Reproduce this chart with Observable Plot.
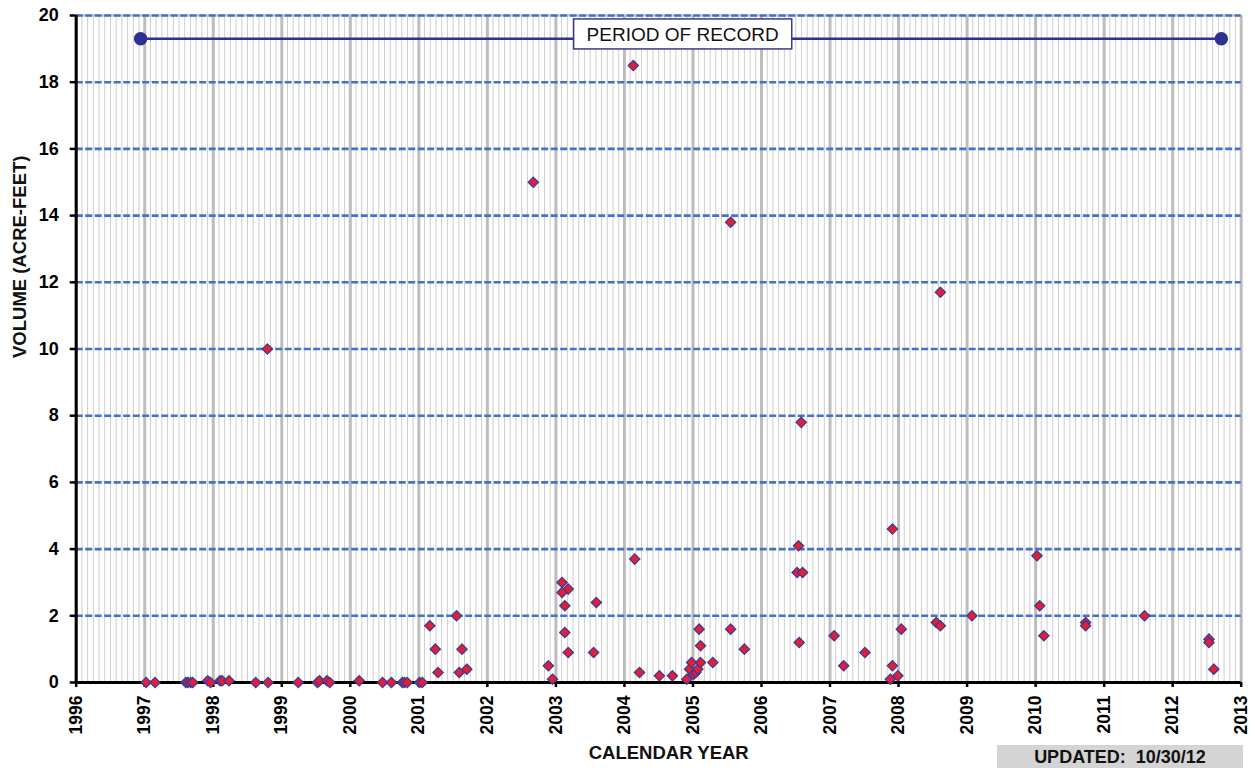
<!DOCTYPE html>
<html><head><meta charset="utf-8">
<script src="https://cdn.jsdelivr.net/npm/d3@7"></script>
<script src="https://cdn.jsdelivr.net/npm/@observablehq/plot@0.6"></script>
<style>
body{margin:0;background:#fff;font-family:"Liberation Sans",Arial,sans-serif;}
#wrap{position:relative;width:1255px;height:771px;overflow:hidden;}
#updated{position:absolute;left:997px;top:745px;width:246px;height:23px;background:#d4d4d4;font:bold 18px "Liberation Sans",Arial,sans-serif;text-align:center;line-height:24px;white-space:pre;color:#111;}
</style></head><body><div id="wrap"><div id="updated"></div></div>
<script>
// ---- data (decimal calendar year, volume in acre-feet) ----
const dates = [
  1997.02, 1997.15, 1997.60, 1997.63, 1997.67, 1997.70, 1997.92, 1997.96, 1998.10, 1998.13,
  1998.23, 1998.62, 1998.80, 1999.24, 1999.52, 1999.55, 1999.66, 1999.70, 2000.13, 2000.47,
  2000.60, 2000.76, 2000.79, 2000.83, 2001.01, 2001.05,
  1998.79,
  2001.16, 2001.24, 2001.28, 2001.55, 2001.59, 2001.63, 2001.70,
  2002.67, 2002.89, 2002.95, 2003.09, 2003.18, 2003.09, 2003.13, 2003.13, 2003.18, 2003.59, 2003.55,
  2004.13, 2004.15, 2004.22, 2004.51, 2004.70, 2004.91, 2004.95, 2004.98, 2005.01, 2005.04,
  2005.07, 2005.11, 2005.09, 2005.11, 2005.29, 2005.55, 2005.55, 2005.75,
  2006.52, 2006.54, 2006.60, 2006.55, 2006.58, 2007.06, 2007.20, 2007.51,
  2007.91, 2007.91, 2007.88, 2007.99, 2008.04, 2008.55, 2008.61, 2008.61, 2009.07,
  2010.02, 2010.06, 2010.12, 2010.73, 2010.73, 2011.59, 2012.53, 2012.53, 2012.60
];
const volumes = [
  0, 0, 0, 0, 0, 0, 0.05, 0, 0.05, 0.05,
  0.05, 0, 0, 0, 0, 0.05, 0.05, 0, 0.05, 0,
  0, 0, 0, 0, 0, 0,
  10.0,
  1.7, 1.0, 0.3, 2.0, 0.3, 1.0, 0.4,
  15.0, 0.5, 0.1, 3.0, 2.8, 2.7, 2.3, 1.5, 0.9, 2.4, 0.9,
  18.5, 3.7, 0.3, 0.2, 0.2, 0.1, 0.4, 0.6, 0.25, 0.3,
  0.4, 0.6, 1.6, 1.1, 0.6, 13.8, 1.6, 1.0,
  3.3, 4.1, 3.3, 1.2, 7.8, 1.4, 0.5, 0.9,
  4.6, 0.5, 0.1, 0.2, 1.6, 1.8, 1.7, 11.7, 2.0,
  3.8, 2.3, 1.4, 1.8, 1.7, 2.0, 1.3, 1.2, 0.4
];
const yTicks = [0, 2, 4, 6, 8, 10, 12, 14, 16, 18, 20];
const yearTicks = [1996, 1997, 1998, 1999, 2000, 2001, 2002, 2003, 2004, 2005, 2006, 2007, 2008, 2009, 2010, 2011, 2012, 2013];
const periodYears = [1996.94, 2012.71];
const periodLevel = 19.3;
const periodLabelYear = 2004.85;
const periodLabel = "PERIOD OF RECORD";
const xTitle = "CALENDAR YEAR";
const yTitle = "VOLUME (ACRE-FEET)";
const updatedText = "UPDATED:  10/30/12";

const points = dates.map((d, i) => ({date: d, volume: volumes[i]}));
const monthGrid = d3.range(0, (2013 - 1996) * 12 + 1).map(i => 1996 + i / 12);
const periodPts = periodYears.map(x => ({x, y: periodLevel}));

const FONT = '"Liberation Sans", Arial, sans-serif';
const chart = Plot.plot({
  width: 1255,
  height: 771,
  marginLeft: 75.7,
  marginRight: 14.3,
  marginTop: 15,
  marginBottom: 89,
  style: {fontFamily: FONT, background: "#fff", color: "#000", overflow: "visible"},
  x: {domain: [1996, 2013]},
  y: {domain: [0, 20]},
  marks: [
    Plot.ruleX(monthGrid, {stroke: "#cdcdcd", strokeWidth: 1}),
    Plot.ruleX(yearTicks, {stroke: "#bdbdbd", strokeWidth: 3}),
    Plot.ruleY([20], {stroke: "#bdbdbd", strokeWidth: 2}),
    Plot.ruleY(yTicks.filter(d => d > 0), {stroke: "#4472c4", strokeWidth: 2.6, strokeDasharray: "7,2.5"}),
    Plot.ruleY([0], {stroke: "#000", strokeWidth: 3}),
    Plot.ruleX([1996], {stroke: "#000", strokeWidth: 3}),
    Plot.axisX({ticks: yearTicks, tickFormat: d => String(d), tickRotate: -90, tickSize: 5, tickPadding: 8,
      strokeWidth: 2.5, fontSize: 17.5, fontWeight: "bold", label: null}),
    Plot.axisY({ticks: yTicks, tickSize: 6, tickPadding: 11.5, strokeWidth: 2.5, fontSize: 18, fontWeight: "bold", label: null}),
    Plot.line(periodPts, {x: "x", y: "y", stroke: "#2e3192", strokeWidth: 2.5}),
    Plot.dot(periodPts, {x: "x", y: "y", r: 6, fill: "#2e3192", stroke: "#2e3192"}),
    Plot.text([periodLabel], {x: () => periodLabelYear, y: () => periodLevel, text: d => d, fontSize: 19, dy: -4,
      fill: "#111"}),
    Plot.dot(points, {x: "date", y: "volume", symbol: "diamond2", r: 4.6, fill: "#ea1c30", stroke: "#3b3b98", strokeWidth: 1.3}),
    Plot.text([xTitle], {frameAnchor: "bottom", text: d => d, dx: 10, dy: 76, fontSize: 18.5, fontWeight: "bold", fill: "#111"}),
    Plot.text([yTitle], {frameAnchor: "left", text: d => d, rotate: -90, dx: -56, dy: 9, fontSize: 18.5, fontWeight: "bold", fill: "#111"})
  ]
});
const wrap = document.getElementById("wrap");
wrap.insertBefore(chart, wrap.firstChild);
document.getElementById("updated").textContent = updatedText;

// white box behind period label
const lab = Array.from(chart.querySelectorAll("text")).find(t => t.textContent === periodLabel);
if (lab) {
  const bb = lab.getBBox();
  const rect = document.createElementNS("http://www.w3.org/2000/svg", "rect");
  rect.setAttribute("x", bb.x - 13);
  rect.setAttribute("y", bb.y - 5);
  rect.setAttribute("width", bb.width + 26);
  rect.setAttribute("height", bb.height + 9);
  rect.setAttribute("fill", "#fff");
  rect.setAttribute("stroke", "#3a3a8a");
  rect.setAttribute("stroke-width", 1.5);
  const t = lab.getAttribute("transform");
  if (t) rect.setAttribute("transform", t);
  lab.parentNode.insertBefore(rect, lab);
}
</script></body></html>
